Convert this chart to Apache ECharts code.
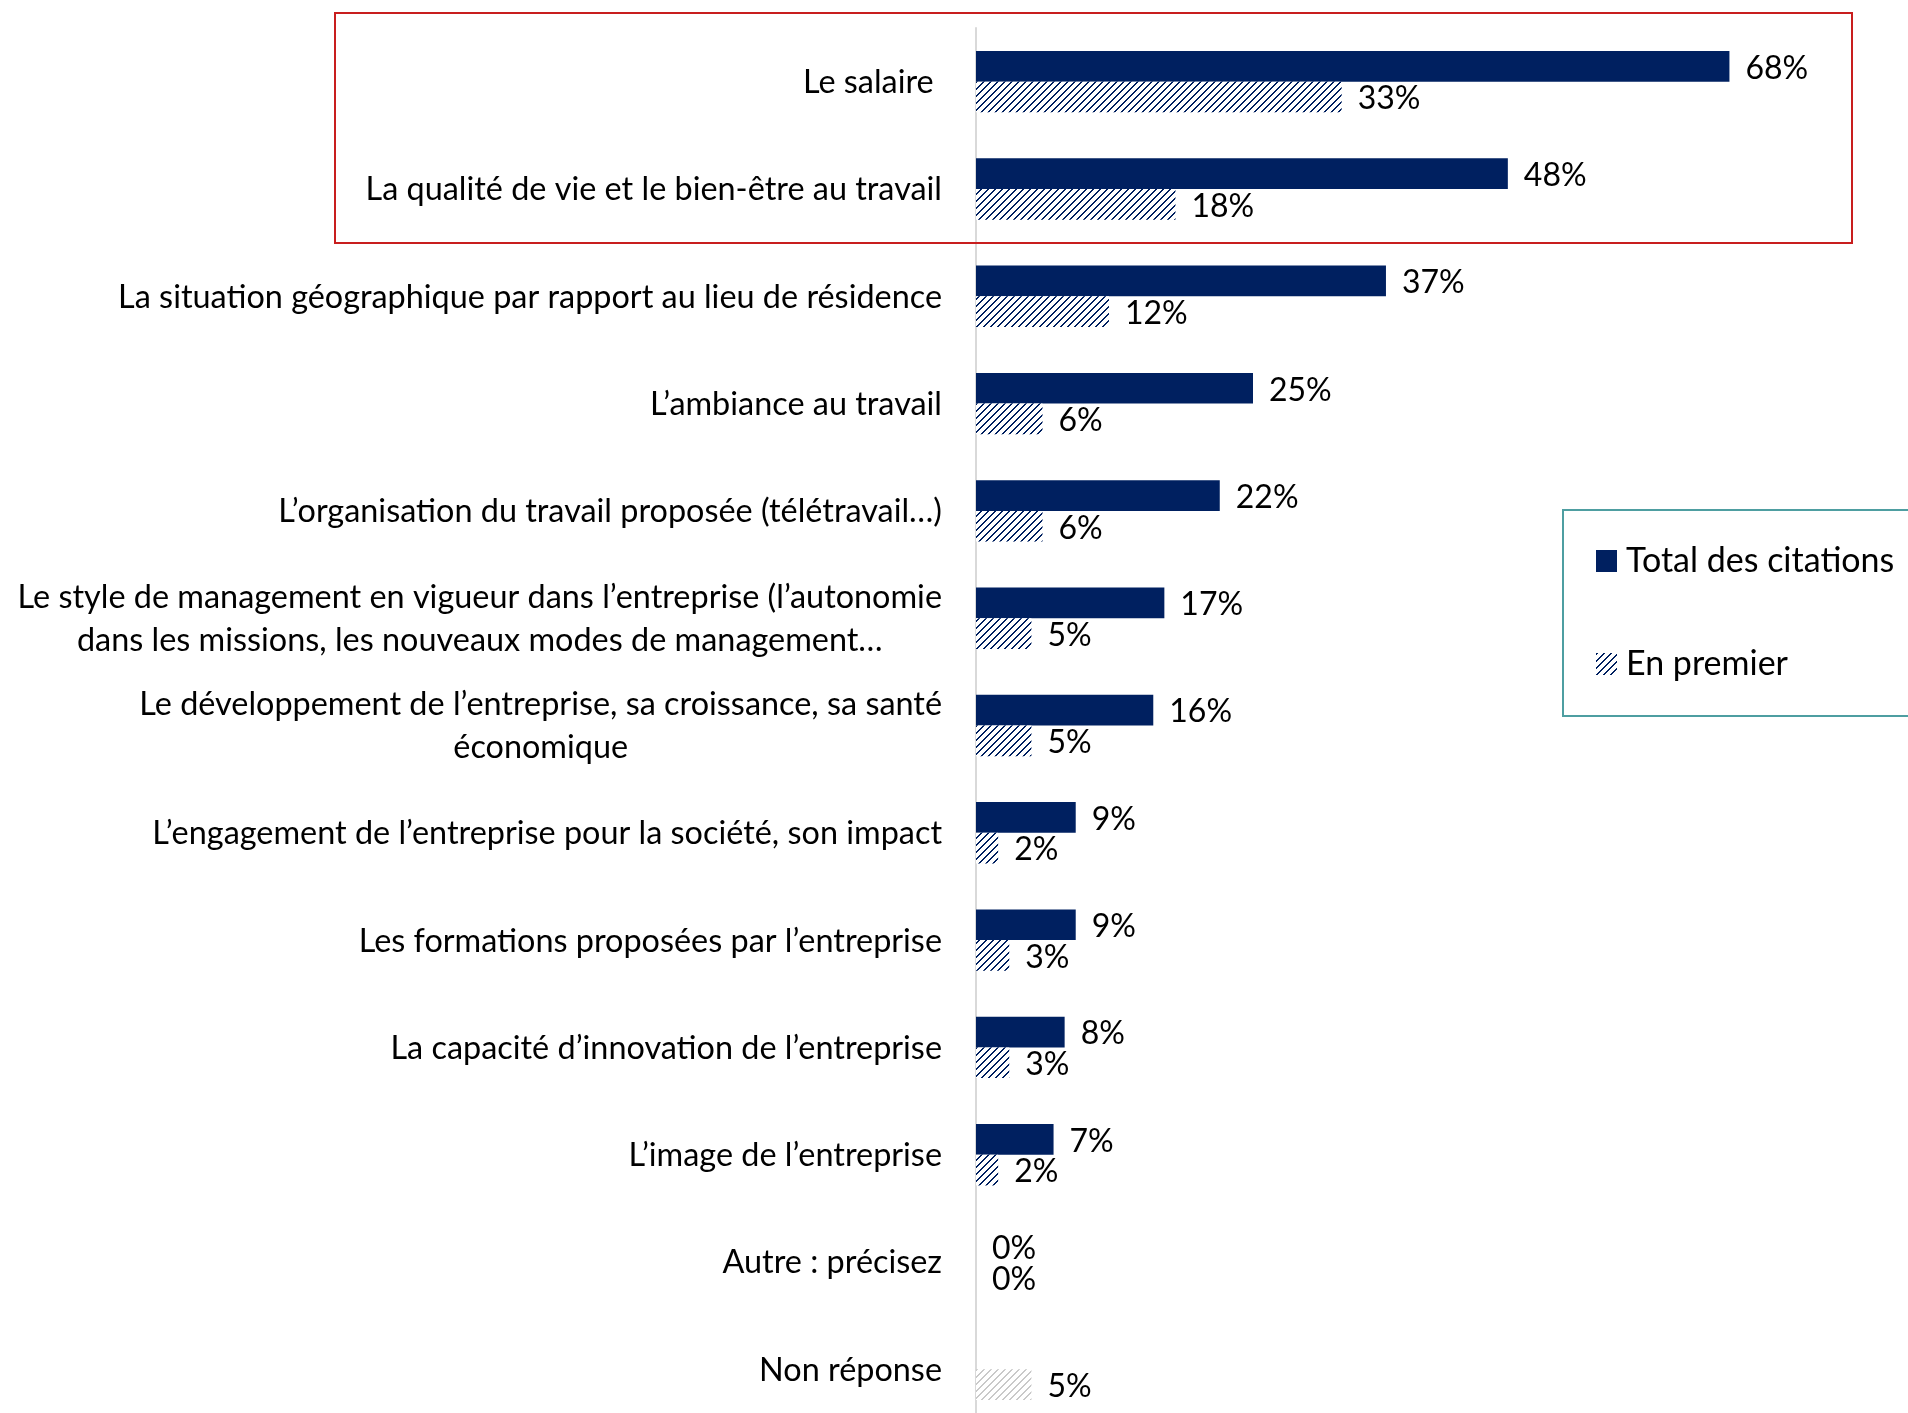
<!DOCTYPE html>
<html>
<head>
<meta charset="utf-8">
<title>Critères de choix d'un employeur</title>
<script src="https://cdn.jsdelivr.net/npm/echarts@6/dist/echarts.min.js"></script>
<style>
    html, body { margin: 0; padding: 0; background: #fff; overflow: hidden; }
    /* a bit taller than the window: the last band is cut off at the bottom like in the original */
    #chart { width: 1908px; height: 1423px; }
</style>
</head>
<body>
<div id="chart"></div>
<script>
    // data
    var categories = [
        'Le salaire ',
        'La qualité de vie et le bien-être au travail',
        'La situation géographique par rapport au lieu de résidence',
        'L’ambiance au travail',
        'L’organisation du travail proposée (télétravail…)',
        'Le style de management en vigueur dans l’entreprise (l’autonomie\ndans les missions, les nouveaux modes de management…',
        'Le développement de l’entreprise, sa croissance, sa santé\néconomique',
        'L’engagement de l’entreprise pour la société, son impact',
        'Les formations proposées par l’entreprise',
        'La capacité d’innovation de l’entreprise',
        'L’image de l’entreprise',
        'Autre : précisez',
        'Non réponse'
    ];
    var totalCitations = [68, 48, 37, 25, 22, 17, 16, 9, 9, 8, 7, 0, null];
    var enPremier = [33, 18, 12, 6, 6, 5, 5, 2, 3, 3, 2, 0, 5];
    var seriesNames = ['Total des citations', 'En premier'];

    var NAVY = '#002060';
    var FONT = 'Lato';

    // diagonal hatch like the excel pattern fill
    function hatch(color) {
        var size = 7, c = document.createElement('canvas');
        c.width = size; c.height = size;
        var ctx = c.getContext('2d');
        ctx.fillStyle = '#fff';
        ctx.fillRect(0, 0, size, size);
        ctx.fillStyle = color;
        for (var x = 0; x < size; x++) {
            for (var y = 0; y < size; y++) {
                if ((x + y) % 7 < 2) ctx.fillRect(x, y, 1, 1);
            }
        }
        return { image: c, repeat: 'repeat' };
    }
    var navyHatch = hatch(NAVY);
    var greyHatch = hatch('#c9c9c9');

    var premierData = enPremier.map(function (v, i) {
        if (categories[i] === 'Non réponse') return { value: v, itemStyle: { color: greyHatch } };
        return v;
    });

    var valueLabel = {
        show: true,
        position: 'right',
        distance: 16,
        offset: [0, 2],
        color: '#000',
        fontFamily: FONT,
        fontSize: 32,
        formatter: function (p) { return p.value + '%'; }
    };

    var chart = echarts.init(document.getElementById('chart'));
    chart.setOption({
        animation: false,
        backgroundColor: '#fff',
        grid: { left: 976, top: 28, width: 886.4, bottom: 0 },
        xAxis: {
            type: 'value',
            min: 0,
            max: 80,
            show: false
        },
        yAxis: {
            type: 'category',
            inverse: true,
            data: categories,
            axisTick: { show: false },
            axisLine: { show: true, lineStyle: { color: '#d9d9d9', width: 2 } },
            axisLabel: {
                margin: 34,
                color: '#000',
                formatter: function (v) {
                    // small spacer on top nudges the block down a little
                    return '{s| }\n' + v.split('\n').map(function (s) { return '{c|' + s + '}'; }).join('\n');
                },
                rich: {
                    c: { align: 'center', fontFamily: FONT, fontSize: 32.4, lineHeight: 43, color: '#000' },
                    s: { fontSize: 1, lineHeight: 2 }
                }
            }
        },
        legend: {
            orient: 'vertical',
            left: 1563,
            top: 510,
            padding: [34, 80, 35, 33],
            itemWidth: 21,
            itemHeight: 22,
            itemGap: 69,
            icon: 'rect',
            borderColor: '#4e9ea1',
            borderWidth: 2,
            textStyle: { fontFamily: FONT, fontSize: 34, color: '#000', padding: [0, 0, 0, 4] },
            data: seriesNames
        },
        graphic: [{
            type: 'rect',
            shape: { x: 335, y: 13, width: 1517, height: 230 },
            style: { fill: 'none', stroke: '#c81e1e', lineWidth: 2 },
            z: 10
        }],
        series: [
            {
                name: seriesNames[0],
                type: 'bar',
                data: totalCitations,
                barWidth: 30.7,
                barGap: '0%',
                itemStyle: { color: NAVY },
                label: valueLabel
            },
            {
                name: seriesNames[1],
                type: 'bar',
                data: premierData,
                barWidth: 30.7,
                barGap: '0%',
                itemStyle: { color: navyHatch },
                label: valueLabel
            }
        ]
    });
</script>
</body>
</html>
